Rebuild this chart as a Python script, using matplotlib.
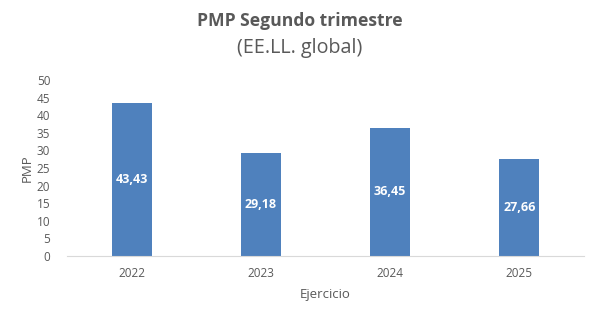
import matplotlib.pyplot as plt

# Datos
years = ["2022", "2023", "2024", "2025"]
pmp = [43.43, 29.18, 36.45, 27.66]
labels = ["43,43", "29,18", "36,45", "27,66"]
yticks = [0, 5, 10, 15, 20, 25, 30, 35, 40, 45, 50]

plt.rcParams['font.family'] = ['Open Sans', 'DejaVu Sans']
grey = "#595959"

fig = plt.figure(figsize=(6, 3.23), dpi=100)
ax = fig.add_axes([0.1117, 0.2074, 0.8617, 0.5449])

x = range(len(years))
bars = ax.bar(x, pmp, width=0.31, color="#4f81bd")
for b, lab in zip(bars, labels):
    ax.text(b.get_x() + b.get_width() / 2, b.get_height() / 2, lab,
            ha="center", va="center", color="white", fontsize=9, fontweight="bold")

ax.set_xlim(-0.5, len(years) - 0.5)
ax.set_ylim(0, 50)
ax.set_yticks(yticks)
ax.set_xticks(list(x))
ax.set_xticklabels(years)
ax.tick_params(axis="both", length=0, labelsize=8.5, colors=grey)
ax.tick_params(axis="y", pad=12)
ax.tick_params(axis="x", pad=8)

for s in ["top", "right", "left"]:
    ax.spines[s].set_visible(False)
ax.spines["bottom"].set_color("#d9d9d9")

ax.set_xlabel("Ejercicio", fontsize=9.5, color=grey, labelpad=6)
ax.set_ylabel("PMP", fontsize=9.5, color=grey, labelpad=2)

fig.text(0.5, 0.935, "PMP Segundo trimestre", ha="center", va="center",
         fontsize=12.6, fontweight="bold", color=grey)
fig.text(0.5, 0.85, "(EE.LL. global)", ha="center", va="center",
         fontsize=14.2, color=grey)

fig.savefig("out.png", dpi=100)
